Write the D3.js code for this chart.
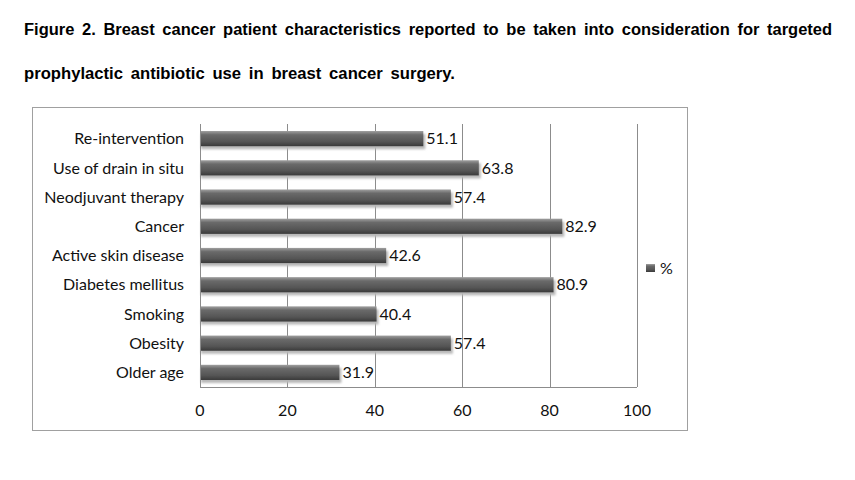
<!DOCTYPE html>
<html>
<head>
<meta charset="utf-8">
<script src="https://cdn.jsdelivr.net/npm/d3@7"></script>
<style>
body { margin: 0; background: #fff; }
</style>
</head>
<body>
<main></main>
<script>
const categories = ["Re-intervention", "Use of drain in situ", "Neodjuvant therapy", "Cancer",
	"Active skin disease", "Diabetes mellitus", "Smoking", "Obesity", "Older age"];
const values = [51.1, 63.8, 57.4, 82.9, 42.6, 80.9, 40.4, 57.4, 31.9];
const xTicks = [0, 20, 40, 60, 80, 100];
const seriesName = "%";

const w = 855, h = 480,
	plotLeft = 200, plotRight = 637, plotTop = 124, plotBottom = 387,
	labelFont = "Lato, 'Open Sans', sans-serif";

const svg = d3.select("main").append("svg")
	.attr("width", w)
	.attr("height", h)
	.style("background", "#fff");

const defs = svg.append("defs");
const grad = defs.append("linearGradient")
	.attr("id", "barGrad")
	.attr("x1", 0).attr("y1", 0).attr("x2", 0).attr("y2", 1);
grad.append("stop").attr("offset", "0%").attr("stop-color", "#a0a0a0");
grad.append("stop").attr("offset", "25%").attr("stop-color", "#6a6a6a");
grad.append("stop").attr("offset", "70%").attr("stop-color", "#555555");
grad.append("stop").attr("offset", "100%").attr("stop-color", "#3a3a3a");

const blur = defs.append("filter").attr("id", "shadow")
	.attr("x", "-5%").attr("y", "-30%").attr("width", "115%").attr("height", "180%");
blur.append("feGaussianBlur").attr("stdDeviation", 1.2);

// title, justified like the original
const titleFont = "'Liberation Sans', Arial, sans-serif";
svg.append("text")
	.attr("x", 24).attr("y", 35)
	.attr("textLength", 808)
	.attr("lengthAdjust", "spacingAndGlyphs")
	.style("font-family", titleFont)
	.style("font-weight", "bold")
	.style("font-size", "16px")
	.style("word-spacing", "3px")
	.text("Figure 2. Breast cancer patient characteristics reported to be taken into consideration for targeted");
svg.append("text")
	.attr("x", 24).attr("y", 79)
	.attr("textLength", 431)
	.attr("lengthAdjust", "spacingAndGlyphs")
	.style("font-family", titleFont)
	.style("font-weight", "bold")
	.style("font-size", "16px")
	.style("word-spacing", "3px")
	.text("prophylactic antibiotic use in breast cancer surgery.");

// chart frame
svg.append("rect")
	.attr("x", 32.5).attr("y", 107.5)
	.attr("width", 655).attr("height", 323)
	.attr("fill", "none")
	.attr("stroke", "#a0a0a0");

const xScale = d3.scaleLinear().domain([0, 100]).range([plotLeft, plotRight]);
const yScale = d3.scaleBand().domain(categories).range([plotTop, plotBottom]).paddingInner(0.48).paddingOuter(0.24);

// gridlines
svg.append("g")
	.selectAll("line")
	.data(xTicks.slice(1))
	.enter()
	.append("line")
	.attr("x1", d => Math.round(xScale(d)) + 0.5)
	.attr("x2", d => Math.round(xScale(d)) + 0.5)
	.attr("y1", plotTop)
	.attr("y2", plotBottom)
	.attr("stroke", "#8c8c8c");

// bar shadows
svg.append("g")
	.selectAll("rect")
	.data(values)
	.enter()
	.append("rect")
	.attr("x", xScale(0) + 1)
	.attr("y", (d, i) => yScale(categories[i]) + 3)
	.attr("width", d => xScale(d) - xScale(0) + 1)
	.attr("height", yScale.bandwidth())
	.attr("fill", "#b8b8b8")
	.attr("filter", "url(#shadow)");

// bars
svg.append("g")
	.selectAll("rect")
	.data(values)
	.enter()
	.append("rect")
	.attr("x", xScale(0))
	.attr("y", (d, i) => yScale(categories[i]))
	.attr("width", d => xScale(d) - xScale(0))
	.attr("height", yScale.bandwidth())
	.attr("fill", "url(#barGrad)");

// axes lines
svg.append("line")
	.attr("x1", plotLeft + 0.5).attr("x2", plotLeft + 0.5)
	.attr("y1", plotTop).attr("y2", plotBottom)
	.attr("stroke", "#8c8c8c");
svg.append("line")
	.attr("x1", plotLeft).attr("x2", plotRight)
	.attr("y1", plotBottom + 0.5).attr("y2", plotBottom + 0.5)
	.attr("stroke", "#8c8c8c");

// value labels
svg.append("g")
	.selectAll("text")
	.data(values)
	.enter()
	.append("text")
	.attr("x", d => xScale(d) + 3)
	.attr("y", (d, i) => yScale(categories[i]) + yScale.bandwidth() / 2)
	.attr("dy", "0.36em")
	.style("font-family", labelFont)
	.style("font-size", "16px")
	.attr("fill", "#111")
	.text(d => d.toFixed(1));

// category labels
svg.append("g")
	.selectAll("text")
	.data(categories)
	.enter()
	.append("text")
	.attr("x", 184)
	.attr("y", d => yScale(d) + yScale.bandwidth() / 2)
	.attr("dy", "0.36em")
	.attr("text-anchor", "end")
	.style("font-family", labelFont)
	.style("font-size", "16px")
	.attr("fill", "#111")
	.text(d => d);

// x tick labels
svg.append("g")
	.selectAll("text")
	.data(xTicks)
	.enter()
	.append("text")
	.attr("x", d => xScale(d))
	.attr("y", 410)
	.attr("dy", "0.36em")
	.attr("text-anchor", "middle")
	.style("font-family", labelFont)
	.style("font-size", "16px")
	.attr("fill", "#111")
	.text(d => d);

// legend
svg.append("rect")
	.attr("x", 646).attr("y", 264)
	.attr("width", 9).attr("height", 8)
	.attr("fill", "url(#barGrad)");
svg.append("text")
	.attr("x", 660).attr("y", 268)
	.attr("dy", "0.36em")
	.style("font-family", labelFont)
	.style("font-size", "16px")
	.attr("fill", "#111")
	.text(seriesName);
</script>
</body>
</html>
